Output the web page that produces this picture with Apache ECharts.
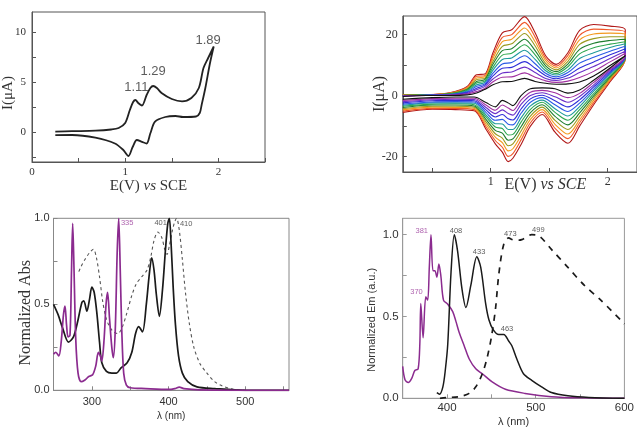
<!DOCTYPE html>
<html>
<head>
<meta charset="utf-8">
<script src="https://cdn.jsdelivr.net/npm/echarts@6/dist/echarts.min.js"></script>
<style>html,body{margin:0;padding:0;background:#fff}#chart{width:637px;height:434px}</style>
</head>
<body>
<div id="chart"></div>
<script>
// --- panel 1: single CV (forward then reverse) ---
var cv1E = [0.25,0.43,0.68,0.85,0.93,1.0,1.05,1.085,1.11,1.14,1.18,1.23,1.27,1.30,1.34,1.39,1.5,1.61,1.71,1.79,1.84,1.89,1.95,
            1.91,1.86,1.82,1.80,1.76,1.62,1.54,1.43,1.32,1.27,1.23,1.18,1.125,1.08,1.035,0.98,0.89,0.68,0.43,0.25];
var cv1I = [0.03,0.08,0.13,0.25,0.4,0.9,2.2,3.0,3.2,2.9,2.65,3.7,4.4,4.6,4.4,3.9,3.3,3.06,3.4,4.4,6.4,7.4,8.55,
            6.9,4.4,2.7,1.9,1.55,1.5,1.6,1.5,1.04,-0.13,-1.15,-0.98,-0.8,-1.5,-2.4,-1.8,-1.15,-0.57,-0.3,-0.32];
var cv1PeakE = [1.12, 1.30, 1.89];
var cv1PeakI = [4.5, 6.06, 9.2];
var cv1PeakText = ['1.11', '1.29', '1.89'];

// --- panel 2: repeated scans, black (first) to dark red (last) ---
var scanColors = ['#111111','#a030a0','#6a2fc8','#2f2fd8','#2a5ae6','#1f9a9a','#2fa84f','#1f7f2f','#9a9a1f','#f39a1f','#f0582a','#b01818'];
var scanFwdE = [0.25,0.45,0.65,0.8,0.88,0.95,1.02,1.1,1.18,1.29,1.38,1.47,1.56,1.66,1.76,1.88,2.02,2.15];
var scanRevE = [2.15,2.02,1.88,1.76,1.66,1.55,1.44,1.34,1.26,1.19,1.15,1.1,1.04,0.96,0.86,0.7,0.5,0.25];
var scanFwdI = [
  [-0.3,0,0,0.2,0.8,2,3.5,4.5,4.6,5.6,4.6,4.0,3.7,3.8,4.4,6.4,9.8,13],
  [-0.2,0,0.1,0.5,1.3,2.3,4.5,6.0,6.1,7.4,6.0,4.8,4.3,4.7,5.9,7.9,11.0,13.8],
  [-0.2,0.1,0.2,0.7,1.9,2.9,5.4,7.4,7.7,9.3,7.5,5.6,4.9,5.7,7.5,9.5,12.1,14.5],
  [-0.1,0.1,0.2,1.0,2.4,3.4,6.4,8.9,9.2,11.1,8.9,6.5,5.5,6.6,9.0,11.0,13.3,15.3],
  [-0.1,0.1,0.3,1.2,3.0,3.8,7.3,10.3,10.8,13.0,10.4,7.3,6.1,7.5,10.6,12.5,14.5,16.1],
  [0,0.1,0.4,1.5,3.5,4.3,8.3,11.8,12.3,14.8,11.8,8.1,6.7,8.4,12.1,14.0,15.7,16.9],
  [0,0.2,0.5,1.7,4.1,4.7,9.2,13.2,13.8,16.6,13.3,8.9,7.2,9.4,13.6,15.6,16.8,17.6],
  [0.1,0.2,0.6,2.0,4.6,5.2,10.2,14.7,15.3,18.4,14.7,9.7,7.8,10.3,15.1,17.1,18.0,18.4],
  [0.1,0.2,0.7,2.2,5.2,5.6,11.1,16.1,16.9,20.3,16.2,10.5,8.4,11.2,16.7,18.6,19.2,19.2],
  [0.2,0.2,0.7,2.5,5.7,6.1,12.1,17.6,18.4,22.1,17.6,11.4,9.0,12.1,18.2,20.1,20.4,20.0],
  [0.2,0.3,0.8,2.7,6.3,6.5,13.0,19.0,19.9,23.9,19.1,12.2,9.6,13.1,19.7,21.7,21.5,20.7],
  [0.3,0.3,0.9,3.0,6.8,7.0,14,20.5,21.5,25.8,20.5,13,10.2,14,21.3,23.2,22.7,21.5]
];
var scanRevI = [
  [13,9,5,1.8,0.8,2.2,2.5,2.2,0,-3.3,-2.4,-1.6,-3.7,-2.3,-0.5,-0.5,-0.7,-1.2],
  [12.9,8.6,4.3,0.7,-0.7,0.9,1.7,1.1,-1.5,-4.9,-4.1,-3.1,-4.8,-3.1,-0.9,-0.9,-1.0,-1.6],
  [12.8,8.2,3.5,-0.3,-2.2,-0.4,0.9,0,-2.9,-6.4,-5.9,-4.7,-5.9,-3.9,-1.3,-1.2,-1.4,-2.0],
  [12.7,7.8,2.8,-1.4,-3.7,-1.7,0.1,-1.1,-4.4,-8.0,-7.6,-6.2,-7.0,-4.7,-1.7,-1.6,-1.7,-2.4],
  [12.6,7.4,2.1,-2.5,-5.2,-3.0,-0.7,-2.2,-5.8,-9.6,-9.4,-7.8,-8.1,-5.5,-2.1,-2.0,-2.1,-2.8],
  [12.5,7.0,1.4,-3.6,-6.7,-4.3,-1.5,-3.4,-7.3,-11.1,-11.1,-9.3,-9.2,-6.3,-2.5,-2.4,-2.4,-3.2],
  [12.5,6.5,0.6,-4.6,-8.1,-5.5,-2.2,-4.5,-8.7,-12.7,-12.9,-10.8,-10.3,-7.0,-3.0,-2.7,-2.8,-3.5],
  [12.4,6.1,-0.1,-5.7,-9.6,-6.8,-3.0,-5.6,-10.2,-14.2,-14.6,-12.3,-11.4,-7.8,-3.4,-3.1,-3.1,-3.9],
  [12.3,5.7,-0.8,-6.8,-11.1,-8.1,-3.8,-6.7,-11.6,-15.8,-16.4,-13.9,-12.5,-8.6,-3.8,-3.5,-3.5,-4.3],
  [12.2,5.3,-1.5,-7.9,-12.6,-9.4,-4.6,-7.8,-13.1,-17.4,-18.1,-15.4,-13.6,-9.4,-4.2,-3.9,-3.8,-4.7],
  [12.1,4.9,-2.3,-8.9,-14.1,-10.7,-5.4,-8.9,-14.5,-19.0,-19.9,-16.9,-14.7,-10.2,-4.6,-4.2,-4.2,-5.1],
  [12,4.5,-3,-10,-15.6,-12,-6.2,-10,-16,-20.5,-21.6,-18.5,-15.8,-11,-5,-4.6,-4.5,-5.5]
];

// --- panel 3: absorbance ---
var absBlackWl = [250,256,262,269.5,276,281,287,289.5,293.5,297,300,303,306.5,310,313,319,326,332,338,346,352,357,361,366,371,375,378,381,384,388,392,396,399,401,403,406,409,413,418,425,437,460,500,557];
var absBlackVal = [0.50,0.44,0.36,0.28,0.31,0.39,0.51,0.52,0.46,0.53,0.60,0.57,0.45,0.28,0.16,0.11,0.10,0.10,0.13,0.16,0.22,0.33,0.37,0.34,0.50,0.68,0.77,0.70,0.56,0.43,0.58,0.82,0.97,1.0,0.88,0.60,0.38,0.20,0.10,0.05,0.02,0.01,0.0,0.0];
var absPurpleWl = [250,253,257,260,263,265,267,269,271.5,273.5,275,276.5,279,282,286,291,296,301,305,308.5,311,313,316,318.5,320.5,323,326,328,330.5,333,335,337,339,341.5,345,350,370,400,408,414,420,440,557];
var absPurpleVal = [0.21,0.22,0.20,0.28,0.44,0.49,0.38,0.31,0.32,0.70,0.97,0.75,0.30,0.10,0.05,0.06,0.08,0.09,0.14,0.22,0.20,0.17,0.30,0.50,0.57,0.42,0.25,0.19,0.35,0.80,1.0,0.70,0.35,0.10,0.03,0.015,0.01,0.005,0.01,0.018,0.01,0.003,0.0];
var absDashWl = [283,286,291,297,302,306,310,314,318,322,328,334,339,345,352,358,365,372,377,381,386,391,395,398,401,405,408,410.5,414,418,422,427,433,441,450,460,470,485,500];
var absDashVal = [0.69,0.72,0.76,0.80,0.82,0.77,0.66,0.52,0.43,0.38,0.34,0.33,0.36,0.44,0.55,0.62,0.66,0.70,0.78,0.87,0.92,0.89,0.82,0.79,0.84,0.93,0.98,1.0,0.93,0.76,0.57,0.39,0.25,0.155,0.10,0.05,0.025,0.005,0.0];
var absLabelWl = [346, 389.7, 423];
var absLabelVal = [0.971, 0.973, 0.967];
var absLabelText = ['335', '401', '410'];

// --- panel 4: emission ---
var emPurpleWl = [350,352.6,356.3,360,363.7,367.4,369.3,370.4,373,376,378.2,380,381.9,384.1,386.3,388.5,390.8,393,396,400.8,406.4,410,413.8,419.4,425,432.4,439.8,450.9,465.8,488,517.7,550,600];
var emPurpleVal = [0.195,0.113,0.096,0.12,0.17,0.18,0.33,0.58,0.37,0.62,0.60,0.80,1.0,0.78,0.78,0.74,0.82,0.75,0.60,0.575,0.53,0.47,0.40,0.32,0.24,0.18,0.15,0.10,0.055,0.03,0.01,0.003,0.0];
var emBlackWl = [388.5,391.5,395.3,398,400.8,404.5,408.2,411.9,416.8,421.3,426.8,433.6,438,443.5,447.2,452,458.3,464,469.5,473.2,478.7,486.2,495.5,506.6,517.7,536.3,560,600];
var emBlackVal = [0.035,0.025,0.07,0.17,0.33,0.77,1.0,0.90,0.67,0.555,0.69,0.865,0.80,0.58,0.48,0.42,0.39,0.39,0.35,0.32,0.24,0.15,0.11,0.07,0.035,0.015,0.005,0.0];
var emDashWl = [392,400.8,413.8,425,432.4,439.8,445.3,450.2,454.7,458.4,463.9,469.5,473.2,477,484.3,495.5,502.9,517.7,536.3,554.9,573.4,600];
var emDashVal = [0.0,0.005,0.01,0.03,0.07,0.15,0.25,0.38,0.55,0.76,0.94,0.98,0.97,0.965,0.97,1.0,0.995,0.91,0.80,0.69,0.60,0.455];
var emLabelWl = [371.5, 365.6, 410.1, 436.1, 467.6, 471.4, 502.9];
var emLabelVal = [1.02, 0.65, 1.02, 0.895, 0.426, 1.004, 1.03];
var emLabelText = ['381', '370', '408', '433', '463', '473', '499'];
var emLabelColor = ['#9a3a9a', '#9a3a9a', '#333', '#333', '#333', '#333', '#333'];

var serif = 'Liberation Serif', sans = 'Liberation Sans';
var purple = '#8b2b8f';

function zip(xs, ys) { return xs.map(function (x, i) { return [x, ys[i]]; }); }

function axisBase(grid, color, font, size, ticks, labels, fmt, margin) {
  return {
    gridIndex: grid, type: 'value', splitLine: { show: false },
    axisLine: { onZero: false, lineStyle: { color: color } },
    axisTick: { inside: true, length: 4, customValues: ticks, lineStyle: { color: color } },
    axisLabel: { customValues: labels, fontFamily: font, fontSize: size, color: '#333', margin: margin,
                 formatter: fmt || function (v) { return String(v); } },
    nameMoveOverlap: false
  };
}

var fmt1 = function (v) { return v.toFixed(1); };

var xAxes = [
  Object.assign(axisBase(0, '#555', serif, 11, [0,0.5,1,1.5,2,2.5], [0,1,2], null, 5), {
    min: 0, max: 2.5, name: '{n|E(V) }{i|vs}{n| SCE}', nameLocation: 'middle', nameGap: 17,
    nameTextStyle: { rich: { n: { fontFamily: serif, fontSize: 15, color: '#333' }, i: { fontFamily: serif, fontStyle: 'italic', fontSize: 15, color: '#333' } } }
  }),
  Object.assign(axisBase(1, '#555', serif, 12, [0.5,1,1.5,2], [1,2], null, 4), {
    min: 0.25, max: 2.25, name: '{n|E(V) }{i|vs SCE}', nameLocation: 'middle', nameGap: 5,
    nameTextStyle: { padding: [0, 0, 0, 51], rich: { n: { fontFamily: serif, fontSize: 16, color: '#333' }, i: { fontFamily: serif, fontStyle: 'italic', fontSize: 16, color: '#333' } } }
  }),
  Object.assign(axisBase(2, '#888', sans, 11, [300,350,400,450,500,550], [300,400,500], null, 6), {
    min: 250, max: 557, name: 'λ (nm)', nameLocation: 'middle', nameGap: 21,
    nameTextStyle: { fontFamily: sans, fontSize: 10, color: '#333' }
  }),
  Object.assign(axisBase(3, '#999', sans, 11.5, [400,450,500,550,600], [400,500,600], null, 4), {
    min: 350, max: 600, name: 'λ (nm)', nameLocation: 'middle', nameGap: 18,
    nameTextStyle: { fontFamily: sans, fontSize: 11, color: '#333' }
  })
];

var yAxes = [
  Object.assign(axisBase(0, '#555', serif, 11, [-2.5,0,2.5,5,7.5,10], [0,5,10], null, 6), {
    min: -3, max: 12, name: 'I(μA)', nameLocation: 'middle', nameGap: 16,
    nameTextStyle: { fontFamily: serif, fontSize: 15, color: '#333', padding: [0, 12, 0, 0] }
  }),
  Object.assign(axisBase(1, '#555', serif, 12, [-20,-10,0,10,20], [-20,0,20], null, 5), {
    min: -25, max: 26, name: 'I(μA)', nameLocation: 'middle', nameGap: 15,
    nameTextStyle: { fontFamily: serif, fontSize: 16, color: '#333' }
  }),
  Object.assign(axisBase(2, '#888', sans, 11, [0,0.25,0.5,0.75,1.0], [0,0.5,1.0], fmt1, 4), {
    min: 0, max: 1.0, name: 'Normalized Abs', nameLocation: 'middle', nameGap: 20,
    nameTextStyle: { fontFamily: serif, fontSize: 16, color: '#333', padding: [0, 17, 0, 0] }
  }),
  Object.assign(axisBase(3, '#999', sans, 11.5, [0,0.25,0.5,0.75,1.0], [0,0.5,1.0], fmt1, 4), {
    min: 0, max: 1.1, name: 'Normalized Em (a.u.)', nameLocation: 'middle', nameGap: 25,
    nameTextStyle: { fontFamily: sans, fontSize: 11, color: '#333', padding: [0, 23, 0, 0] }
  })
];

function line(idx, data, color, width, type, smooth) {
  return {
    type: 'line', xAxisIndex: idx, yAxisIndex: idx, data: data, showSymbol: false, silent: true,
    smooth: smooth == null ? 0.3 : smooth, lineStyle: { color: color, width: width, type: type || 'solid' }
  };
}

function labels(idx, xs, ys, texts, colors, size) {
  return {
    type: 'scatter', xAxisIndex: idx, yAxisIndex: idx, silent: true, symbolSize: 1,
    itemStyle: { color: 'transparent' },
    data: xs.map(function (x, i) {
      return { value: [x, ys[i]], label: { color: Array.isArray(colors) ? colors[i] : colors } };
    }),
    label: { show: true, position: 'inside', fontFamily: sans, fontSize: size,
             formatter: function (p) { return texts[p.dataIndex]; } }
  };
}

var series = [];
series.push(line(0, zip(cv1E, cv1I), '#222', 1.8, 'solid', 0.3));
series.push(labels(0, cv1PeakE, cv1PeakI, cv1PeakText, '#333', 13));

for (var k = scanColors.length - 1; k >= 0; k--) {
  var pts = zip(scanFwdE, scanFwdI[k]).concat(zip(scanRevE, scanRevI[k]));
  series.push(line(1, pts, scanColors[k], 1.1, 'solid', 0.3));
}

series.push(line(2, zip(absDashWl, absDashVal), '#555', 1.1, [3, 3], 0.3));
series.push(line(2, zip(absBlackWl, absBlackVal), '#1a1a1a', 1.7, 'solid', 0.3));
series.push(line(2, zip(absPurpleWl, absPurpleVal), purple, 1.7, 'solid', 0.3));
series.push(labels(2, absLabelWl, absLabelVal, absLabelText, ['#9a3a9a', '#333', '#333'], 7.5));

series.push(line(3, zip(emPurpleWl, emPurpleVal), purple, 1.5, 'solid', 0.3));
series.push(line(3, zip(emBlackWl, emBlackVal), '#1a1a1a', 1.5, 'solid', 0.3));
series.push(line(3, zip(emDashWl, emDashVal), '#1a1a1a', 1.7, [6, 6], 0.3));
series.push(labels(3, emLabelWl, emLabelVal, emLabelText, emLabelColor, 7.5));

var chart = echarts.init(document.getElementById('chart'), null, { renderer: 'canvas' });
chart.setOption({
  animation: false,
  backgroundColor: '#fff',
  grid: [
    { left: 31, top: 12, width: 234, height: 150, show: true, borderColor: '#555', borderWidth: 1 },
    { left: 402.8, top: 16, width: 241.4, height: 156, show: true, borderColor: '#555', borderWidth: 1 },
    { left: 53.5, top: 218.3, width: 235.5, height: 172, show: true, borderColor: '#888', borderWidth: 1 },
    { left: 402.7, top: 218.3, width: 224.6, height: 180, show: true, borderColor: '#999', borderWidth: 1 }
  ],
  xAxis: xAxes,
  yAxis: yAxes,
  series: series
});
</script>
</body>
</html>
